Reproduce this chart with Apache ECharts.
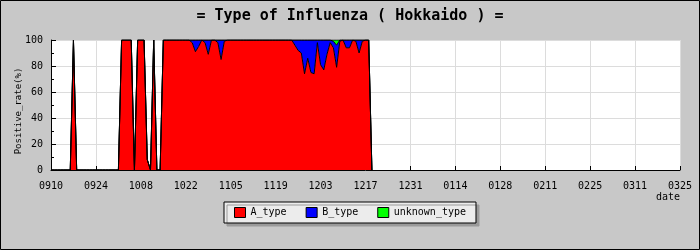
<!DOCTYPE html>
<html>
<head>
<meta charset="utf-8">
<script src="https://cdn.jsdelivr.net/npm/echarts@6/dist/echarts.min.js"></script>
<style>html,body{margin:0;padding:0;background:#c8c8c8}#c{width:700px;height:250px}</style>
</head>
<body>
<div id="c"></div>
<script>
// Daily positive rates (%) starting 09/10
var aType = [
  0,0,0,0,0,0,0,100,0,0,
  0,0,0,0,0,0,0,0,0,0,
  0,0,100,100,100,100,0,100,100,100,
  8,0,100,0,0,100,100,100,100,100,
  100,100,100,100,98,91,95,100,98,89,
  100,100,98,85,99,100,100,100,100,100,
  100,100,100,100,100,100,100,100,100,100,
  100,100,100,100,100,100,96,92,90,74,
  86,75,74,98,81,77,89,98,94,79,
  99,100,94,94,100,99,90,99,100,100,
  0
];
var bType = [
  0,0,0,0,0,0,0,0,0,0,
  0,0,0,0,0,0,0,0,0,0,
  0,0,0,0,0,0,0,0,0,0,
  0,0,0,0,0,0,0,0,0,0,
  0,0,0,0,2,9,5,0,2,11,
  0,0,2,15,1,0,0,0,0,0,
  0,0,0,0,0,0,0,0,0,0,
  0,0,0,0,0,0,4,8,10,26,
  14,25,26,2,19,23,11,2,5,17,
  1,0,6,6,0,1,10,1,0,0,
  0
];
var unknownType = [
  0,0,0,0,0,0,0,0,0,0,
  0,0,0,0,0,0,0,0,0,0,
  0,0,0,0,0,0,0,0,0,0,
  0,0,0,0,0,0,0,0,0,0,
  0,0,0,0,0,0,0,0,0,0,
  0,0,0,0,0,0,0,0,0,0,
  0,0,0,0,0,0,0,0,0,0,
  0,0,0,0,0,0,0,0,0,0,
  0,0,0,0,0,0,0,0,1,4,
  0,0,0,0,0,0,0,0,0,0,
  0
];
var tickLabels = ['0910','0924','1008','1022','1105','1119','1203','1217','1231','0114','0128','0211','0225','0311','0325'];
var seriesNames = ['A_type','B_type','unknown_type'];
var seriesColors = ['#ff0000','#0000ff','#00ff00'];

// daily categories 09/10 .. 03/25
var days = [];
var d = new Date(Date.UTC(2014, 8, 10));
var end = new Date(Date.UTC(2015, 2, 25));
while (d <= end) {
  var m = d.getUTCMonth() + 1, dd = d.getUTCDate();
  days.push((m < 10 ? '0' : '') + m + (dd < 10 ? '0' : '') + dd);
  d = new Date(d.getTime() + 86400000);
}

var FONT = 'DejaVu Sans Mono';
var chart = echarts.init(document.getElementById('c'), null, {renderer: 'canvas'});
var values = [aType, bType, unknownType];
var series = seriesNames.map(function (n, i) {
  return {
    name: n, type: 'line', stack: 'total', data: values[i],
    showSymbol: false, symbol: 'none',
    itemStyle: {color: seriesColors[i]},
    lineStyle: {color: '#000', width: 1},
    areaStyle: {color: seriesColors[i], opacity: 1},
    emphasis: {disabled: true}
  };
});

chart.setOption({
  animation: false,
  backgroundColor: '#c8c8c8',
  textStyle: {fontFamily: FONT},
  title: {
    text: '= Type of Influenza ( Hokkaido ) =',
    left: 'center', top: 9, padding: 0,
    textStyle: {fontFamily: FONT, fontSize: 15, fontWeight: 'bold', color: '#000'}
  },
  graphic: [{
    type: 'rect', z: 100, silent: true,
    shape: {x: 0.5, y: 0.5, width: 699, height: 249},
    style: {fill: 'none', stroke: '#000', lineWidth: 1}
  }],
  legend: {
    data: seriesNames,
    left: 'center', top: 202,
    icon: 'rect', itemWidth: 11, itemHeight: 10, itemGap: 19,
    padding: [5, 10, 5, 10],
    backgroundColor: '#ececec', borderColor: '#000', borderWidth: 1, borderRadius: 0,
    shadowColor: '#9a9a9a', shadowOffsetX: 3, shadowOffsetY: 3, shadowBlur: 0,
    itemStyle: {borderColor: '#000', borderWidth: 1},
    textStyle: {fontFamily: FONT, fontSize: 10, color: '#000'}
  },
  grid: {left: 51, right: 20, top: 40, bottom: 80, show: true, backgroundColor: '#fff', borderWidth: 0,
         containLabel: false, outerBoundsMode: 'none'},
  xAxis: {
    type: 'category', data: days, boundaryGap: false,
    name: 'date', nameLocation: 'end', nameGap: 0, nameMoveOverlap: false,
    nameTextStyle: {fontFamily: FONT, fontSize: 10, color: '#000', align: 'right', verticalAlign: 'top', padding: [22, 0, 0, 0]},
    axisLine: {lineStyle: {color: '#000', width: 1}},
    axisTick: {show: true, inside: true, length: 4, interval: 13, lineStyle: {color: '#000'}},
    axisLabel: {
      interval: 13, margin: 11, color: '#000', fontFamily: FONT, fontSize: 10,
      formatter: function (v, i) { return tickLabels[Math.round(i / 14)] || v; }
    },
    splitLine: {show: true, interval: 13, lineStyle: {color: '#dcdcdc', width: 1}}
  },
  yAxis: {
    type: 'value', min: 0, max: 100, interval: 20,
    name: 'Positive_rate(%)', nameLocation: 'middle', nameGap: 28, nameRotate: 90, nameMoveOverlap: false,
    nameTextStyle: {fontFamily: FONT, fontSize: 9, color: '#000', padding: [0, 12, 0, 0]},
    axisLine: {show: true, lineStyle: {color: '#000', width: 1}},
    axisTick: {show: true, inside: true, length: 5, lineStyle: {color: '#000'}},
    minorTick: {show: true, splitNumber: 2, length: 3, lineStyle: {color: '#000'}},
    axisLabel: {margin: 8, color: '#000', fontFamily: FONT, fontSize: 10},
    splitLine: {show: true, lineStyle: {color: '#dcdcdc', width: 1}}
  },
  series: series
});
</script>
</body>
</html>
